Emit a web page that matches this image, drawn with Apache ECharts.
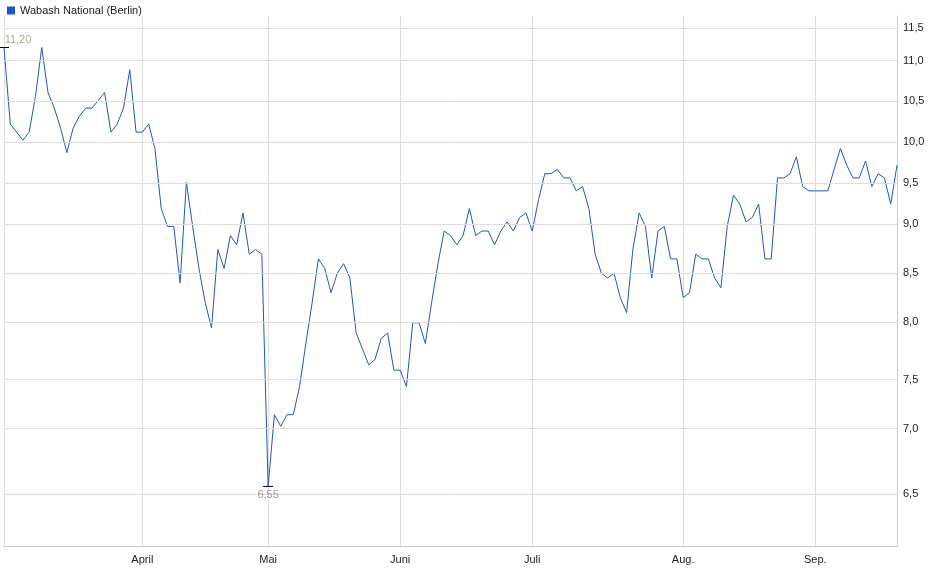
<!DOCTYPE html><html><head><meta charset="utf-8"><script src="https://cdn.jsdelivr.net/npm/echarts@6/dist/echarts.min.js"></script>
<style>body{margin:0}#c{width:940px;height:579px}</style></head><body><div id="c"></div><script>
const prices=[11.2,10.2,10.1,10.0,10.1,10.55,11.2,10.6,10.4,10.15,9.85,10.15,10.3,10.4,10.4,10.5,10.6,10.1,10.2,10.4,10.9,10.1,10.1,10.2,9.9,9.2,9.0,9.0,8.4,9.5,9.0,8.55,8.2,7.95,8.75,8.55,8.9,8.8,9.15,8.7,8.75,8.7,6.55,7.15,7.05,7.15,7.15,7.4,7.8,8.2,8.65,8.55,8.3,8.5,8.6,8.45,7.9,7.75,7.6,7.65,7.85,7.9,7.55,7.55,7.4,8.0,8.0,7.8,8.2,8.6,8.95,8.9,8.8,8.9,9.2,8.9,8.95,8.95,8.8,8.95,9.05,8.95,9.1,9.15,8.95,9.3,9.6,9.6,9.65,9.55,9.55,9.4,9.45,9.2,8.7,8.5,8.45,8.5,8.25,8.1,8.75,9.15,9.0,8.45,8.95,9.0,8.65,8.65,8.25,8.3,8.7,8.65,8.65,8.45,8.35,9.0,9.35,9.25,9.05,9.1,9.25,8.65,8.65,9.55,9.55,9.6,9.8,9.45,9.4,9.4,9.4,9.4,9.65,9.9,9.7,9.55,9.55,9.75,9.45,9.6,9.55,9.25,9.7];
const monthNames=['April','Mai','Juni','Juli','Aug.','Sep.'];
const monthIdx=[22,42,63,84,108,129];
const yTicks=[6.5,7.0,7.5,8.0,8.5,9.0,9.5,10.0,10.5,11.0,11.5];
const cats=prices.map((_,i)=>{const k=monthIdx.indexOf(i);return k>=0?monthNames[k]:'';});
const L=Math.log;
const fmt=v=>v.toFixed(1).replace('.',',');
const fmt2=v=>v.toFixed(2).replace('.',',');
let maxI=0,minI=0;prices.forEach((p,i)=>{if(p>prices[maxI])maxI=i;if(p<prices[minI])minI=i;});
const ch=echarts.init(document.getElementById('c'));
ch.setOption({animation:false,
legend:{left:2,top:0,itemWidth:8,itemHeight:8,itemGap:4,icon:'rect',textStyle:{fontSize:11,color:'#222',fontFamily:'Liberation Sans'},data:['Wabash National (Berlin)']},
grid:{left:4,right:43,top:16,bottom:33},
xAxis:{type:'category',data:cats,boundaryGap:false,
 axisLine:{lineStyle:{color:'#ccc'}},axisTick:{show:false},
 axisLabel:{interval:0,fontSize:11,color:'#222',fontFamily:'Liberation Sans',formatter:v=>v},
 splitLine:{show:true,interval:(i)=>i===0||monthIdx.includes(i),lineStyle:{color:'#ddd'}}},
yAxis:{type:'value',position:'right',min:L(6.09),max:L(11.64),axisLabel:{show:false},splitLine:{show:false},axisTick:{show:false},axisLine:{show:true,lineStyle:{color:'#ccc'}}},
series:[{name:'Wabash National (Berlin)',type:'line',data:prices.map(L),symbol:'none',color:'#1c57c5',lineStyle:{width:1,color:'#1c57c5'},
 markLine:{silent:true,symbol:'none',animation:false,lineStyle:{color:'#ddd',type:'solid',width:1},
  label:{position:'end',formatter:p=>fmt(yTicks[p.dataIndex]),color:'#222',fontSize:11,fontFamily:'Liberation Sans',distance:6},
  data:yTicks.map(t=>({yAxis:L(t)}))},
 markPoint:{symbol:'rect',symbolSize:[10,1],itemStyle:{color:'#000'},
  data:[{coord:[maxI,L(prices[maxI])],label:{position:'top',formatter:fmt2(prices[maxI]),color:'#b0a890',fontSize:11,distance:2,offset:[14,0]}},
        {coord:[minI,L(prices[minI])],label:{position:'bottom',formatter:fmt2(prices[minI]),color:'#999',fontSize:11,distance:3}}]}}]
});
</script></body></html>
